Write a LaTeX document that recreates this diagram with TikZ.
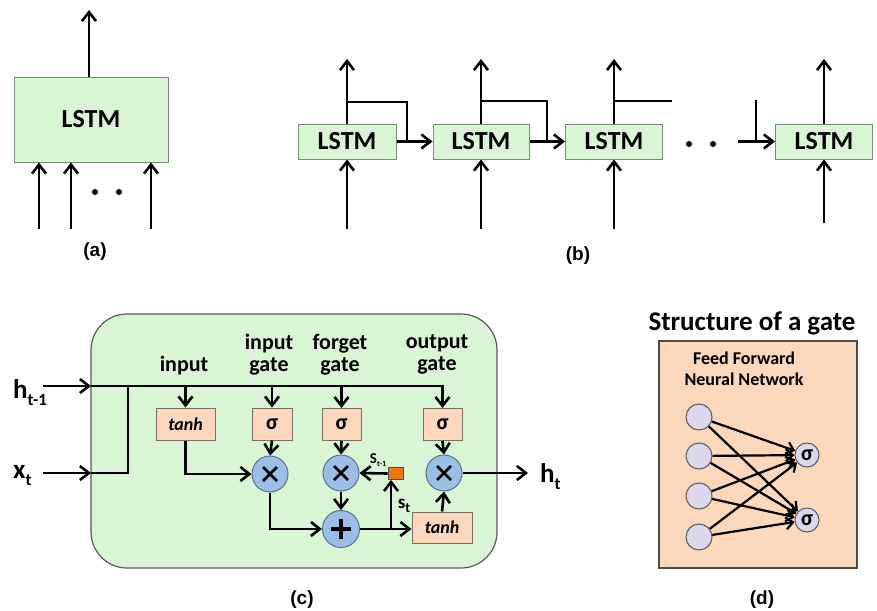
\documentclass[tikz,border=0pt]{standalone}
\usepackage{fontspec}
\setmainfont{Carlito}
\newfontfamily\capfont{Liberation Sans}
\usetikzlibrary{arrows.meta}
\definecolor{lgreen}{RGB}{217,246,212}
\definecolor{gedge}{RGB}{120,140,120}
\definecolor{peach}{RGB}{251,215,188}
\definecolor{pedge}{RGB}{120,110,100}
\definecolor{cblue}{RGB}{155,190,230}
\definecolor{bedge}{RGB}{90,110,140}
\definecolor{orng}{RGB}{240,120,20}
\definecolor{lav}{RGB}{220,214,238}
\tikzset{
  ln/.style={line width=2.6pt},
  arr/.style={line width=2.6pt,-{Straight Barb[length=9pt,width=14pt]}},
  thinarr/.style={line width=2.2pt,-{Straight Barb[length=7pt,width=12pt]}},
  lstmbox/.style={draw=gedge,fill=lgreen,line width=1pt,inner sep=0pt,font=\fontsize{26}{30}\selectfont\bfseries},
  gatebox/.style={draw=pedge,fill=peach,line width=1pt,inner sep=0pt,minimum height=32},
  sigtxt/.style={font=\fontsize{22}{24}\selectfont\bfseries},
  tanhtxt/.style={font=\fontsize{18}{20}\selectfont\bfseries\itshape},
  opcirc/.style={circle,draw=bedge,fill=cblue,line width=1pt,minimum size=36,inner sep=0pt},
  mult/.style={opcirc,path picture={\draw[draw=black,line width=2.8pt]
      ([shift={(-7,-7)}]path picture bounding box.center) -- ++(14,14)
      ([shift={(-7,7)}]path picture bounding box.center) -- ++(14,-14);}},
  plus/.style={opcirc,path picture={\draw[draw=black,line width=3.4pt]
      ([shift={(-10,0)}]path picture bounding box.center) -- ++(20,0)
      ([shift={(0,-10)}]path picture bounding box.center) -- ++(0,20);}},
  lbl/.style={font=\fontsize{22}{22}\selectfont\bfseries,inner sep=0pt},
  captxt/.style={font=\capfont\fontsize{19}{22}\selectfont\bfseries},
  dot/.style={circle,fill=black,minimum size=6,inner sep=0pt},
  incirc/.style={circle,draw=gray!70!black,fill=lav,line width=1pt,minimum size=26,inner sep=0pt},
  outcirc/.style={circle,draw=gray!70!black,fill=lav,line width=1pt,minimum size=24,inner sep=0pt,font=\fontsize{22}{22}\selectfont\bfseries}
}
\begin{document}
\begin{tikzpicture}[x=1pt,y=-1pt]
\useasboundingbox[fill=white] (0,0) rectangle (877,610);

% ---------------- (a)
\node[lstmbox,minimum width=154,minimum height=85] (A) at (91,119.5) {LSTM};
\coordinate (aout) at (89,10);
\draw[arr] (A.north -| aout) -- (aout);
\coordinate (ain1) at (39,229);
\coordinate (ain2) at (71,229);
\coordinate (ain3) at (151,229);
\foreach \i in {1,2,3} \draw[arr] (ain\i) -- (ain\i |- A.south);
\node[dot] (ad1) at (95,192) {};
\node[dot] (ad2) at (119,192) {};
\node[captxt] (capa) at (95,252) {(a)};

% ---------------- (b)
\node[lstmbox,minimum width=98,minimum height=35] (B1) at (347,141.5) {LSTM};
\node[lstmbox,minimum width=96,minimum height=35] (B2) at (481,141.5) {LSTM};
\node[lstmbox,minimum width=97,minimum height=35] (B3) at (614,141.5) {LSTM};
\node[lstmbox,minimum width=97,minimum height=35] (B4) at (824,141.5) {LSTM};
\coordinate (b1o) at (347,59);
\coordinate (b2o) at (481,59);
\coordinate (b3o) at (614,59);
\coordinate (b4o) at (824,59);
\coordinate (b1i) at (347,229);
\coordinate (b2i) at (481,229);
\coordinate (b3i) at (614,229);
\coordinate (b4i) at (824,223);
\foreach \i in {1,2,3,4} {
  \draw[arr] (B\i.north) -- (b\i o);
  \draw[arr] (b\i i) -- (B\i.south);
}
\coordinate (b1j) at (347,102);
\coordinate (b1d) at (407,141.5);
\draw[ln] (b1j) -| (b1d);
\draw[arr] (B1.east) -- (B2.west);
\coordinate (b2j) at (481,101);
\coordinate (b2d) at (547,141.5);
\draw[ln] (b2j) -| (b2d);
\draw[arr] (B2.east) -- (B3.west);
\coordinate (b3j) at (614,101);
\coordinate (b3e) at (672,101);
\draw[ln] (b3j) -- (b3e);
\coordinate (b4s) at (738,141.5);
\draw[arr] (b4s) -- (B4.west);
\coordinate (b4t) at (756,100);
\coordinate (b4u) at (756,141.5);
\draw[ln] (b4t) -- (b4u);
\node[dot] (bd1) at (689,144) {};
\node[dot] (bd2) at (713,144) {};
\node[captxt] (capb) at (578,256) {(b)};

% ---------------- (c)
\node[draw=gray!70!black,fill=lgreen,line width=1.2pt,rounded corners=36,minimum width=406,minimum height=254] (C) at (294,441) {};
\node[lbl] (Lin) at (184,366) {input};
\node[lbl] (Lig1) at (269,344) {input};
\node[lbl] (Lig2) at (269,366) {gate};
\node[lbl] (Lfg1) at (340,344) {forget};
\node[lbl] (Lfg2) at (340,366) {gate};
\node[lbl] (Log1) at (437,343) {output};
\node[lbl] (Log2) at (437,365) {gate};

\node[gatebox,minimum width=59,tanhtxt] (Ti) at (185.5,424) {tanh};
\node[gatebox,minimum width=40,sigtxt] (Si) at (272,424) {σ};
\node[gatebox,minimum width=39,sigtxt] (Sf) at (341.5,424.5) {σ};
\node[gatebox,minimum width=39,sigtxt] (So) at (442.5,424.5) {σ};
\node[mult] (M1) at (270,474) {};
\node[mult] (M2) at (341,473) {};
\node[mult] (M3) at (444,473) {};
\node[plus,minimum size=37] (P) at (341,529) {};
\node[draw=black!70,fill=orng,line width=0.8pt,minimum width=15,minimum height=12,inner sep=0pt] (Sq) at (395.5,473.5) {};
\node[gatebox,minimum width=60,minimum height=31,tanhtxt] (T2) at (442,527.5) {tanh};

\node[font=\fontsize{27}{27}\selectfont\bfseries,inner sep=0pt,anchor=west] (ht1) at (13,393) {h\raisebox{-7pt}{\fontsize{17}{17}\selectfont t-1}};
\node[font=\fontsize{27}{27}\selectfont\bfseries,inner sep=0pt,anchor=west] (xt) at (13,476) {x\raisebox{-7pt}{\fontsize{17}{17}\selectfont t}};
\node[font=\fontsize{27}{27}\selectfont\bfseries,inner sep=0pt,anchor=west] (ht) at (540,477) {h\raisebox{-7pt}{\fontsize{17}{17}\selectfont t}};

\coordinate (hin) at (43,386);
\coordinate (cL1) at (91,386);
\coordinate (xin) at (43,473);
\coordinate (cL2) at (91,473);
\coordinate (xj) at (128,473);
\coordinate (xk) at (128,386);
\draw[arr] (hin) -- (cL1);
\draw[arr] (xin) -- (cL2);
\draw[ln] (cL2) -- (xj) -- (xk);
\draw[arr] (cL1) -| (So.north);
\draw[arr] (Ti.north |- cL1) -- (Ti.north);
\draw[arr] (Si.north |- cL1) -- (Si.north);
\draw[arr] (Sf.north |- cL1) -- (Sf.north);
\draw[arr] (Si.south) -- (M1.north);
\draw[arr] (Ti.south) |- (M1.west);
\draw[arr] (M1.south) |- (P.west);
\draw[arr] (Sf.south) -- (M2.north);
\draw[arr] (M2.south) -- (P.north);
\draw[arr] (Sq.west) -- (M2.east);
\draw[arr] (P.east) -- (P.east -| T2.west);
\coordinate (jn) at (391,529);
\draw[arr] (jn) -- (jn |- Sq.south);
\draw[arr] (So.south) -- (M3.north);
\draw[arr] (T2.north) -- (M3.south);
\coordinate (hout) at (528,473);
\draw[arr] (M3.east) -- (hout);
\node[font=\fontsize{15}{15}\selectfont\bfseries,inner sep=0pt] (lst1) at (378,460) {S\raisebox{-3pt}{\fontsize{8}{8}\selectfont t-1}};
\node[font=\fontsize{19}{19}\selectfont\bfseries,inner sep=0pt] (lst) at (404,506) {s\raisebox{-4pt}{\fontsize{14}{14}\selectfont t}};
\node[captxt] (capc) at (302,600) {(c)};

% ---------------- (d)
\node[font=\fontsize{27}{30}\selectfont\bfseries,inner sep=0pt] (Dt) at (752,323) {Structure of a gate};
\node[draw=gray!60!black,fill=peach,line width=1.2pt,minimum width=198,minimum height=227,inner sep=0pt] (D) at (758,454.5) {};
\node[font=\fontsize{18}{21}\selectfont\bfseries,align=center,inner sep=0pt] (Dff) at (744,368.5) {Feed Forward\\Neural Network};
\node[incirc] (I1) at (699,417) {};
\node[incirc] (I2) at (699,456) {};
\node[incirc] (I3) at (699,496) {};
\node[incirc] (I4) at (699,537) {};
\node[outcirc] (O1) at (807,455) {σ};
\node[outcirc] (O2) at (807,520) {σ};
\foreach \i in {1,2,3,4} \foreach \o in {1,2} \draw[thinarr] (I\i) -- (O\o);
\node[captxt] (capd) at (762,600) {(d)};
\end{tikzpicture}
\end{document}
